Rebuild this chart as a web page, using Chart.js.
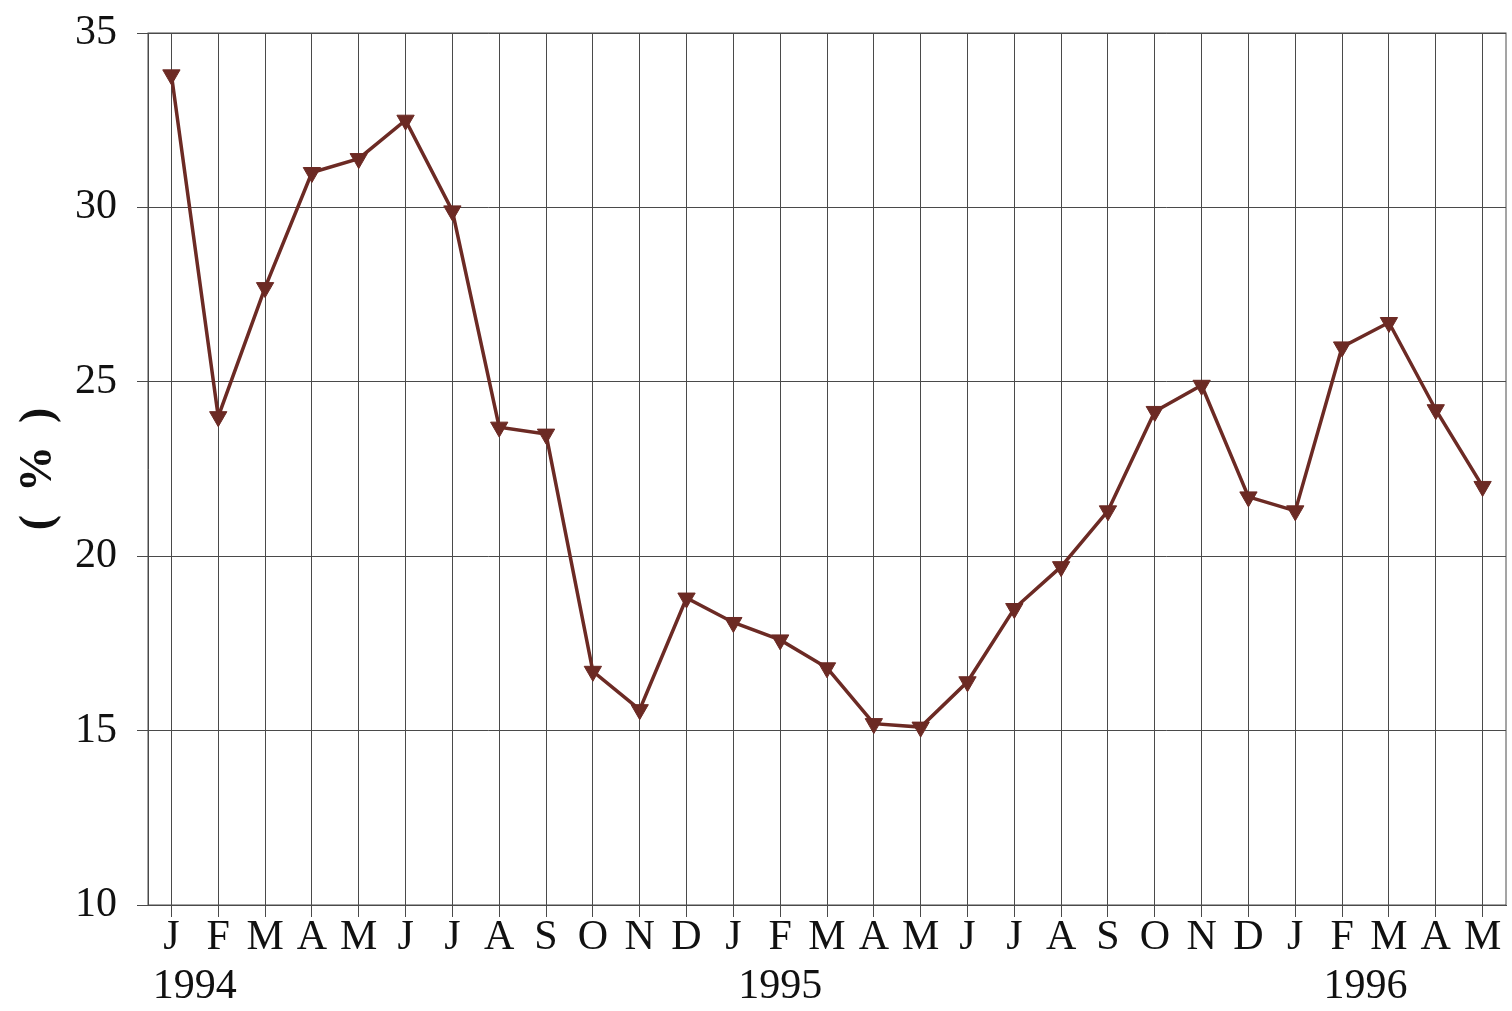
<!DOCTYPE html>
<html>
<head>
<meta charset="utf-8">
<script src="https://cdn.jsdelivr.net/npm/chart.js@4/dist/chart.umd.min.js"></script>
<style>
  html, body { margin: 0; padding: 0; background: #fff; }
  #wrap { width: 1512px; height: 1011px; }
</style>
</head>
<body>
<div id="wrap"><canvas id="rate-chart"></canvas></div>
<script>
const MONTHS = ['J', 'F', 'M', 'A', 'M', 'J', 'J', 'A', 'S', 'O', 'N', 'D',
                'J', 'F', 'M', 'A', 'M', 'J', 'J', 'A', 'S', 'O', 'N', 'D',
                'J', 'F', 'M', 'A', 'M'];
const RATES = [33.8, 24.0, 27.7, 31.0, 31.4, 32.5, 29.9, 23.7, 23.5, 16.7, 15.6, 18.8,
               18.1, 17.6, 16.8, 15.2, 15.1, 16.4, 18.5, 19.7, 21.3, 24.15, 24.9, 21.7,
               21.3, 26.0, 26.7, 24.2, 22.0];
const YEARS = ['1994', '1995', '1996'];
const YEAR_AT = [0.5, 13, 25.5];   // category index the year sits under
const Y_MIN = 10, Y_MAX = 35, Y_STEP = 5;

const LINE_COLOR = '#6c2a24';
const GRID_COLOR = '#4a4a4a';
const TEXT_COLOR = '#111';
const SERIF = '"Liberation Serif", "DejaVu Serif", serif';

const frame = {
    id: 'frame',
    afterDraw(chart) {
        const { ctx, chartArea: a } = chart;
        ctx.save();
        ctx.strokeStyle = GRID_COLOR;
        ctx.lineWidth = 1;
        ctx.strokeRect(a.left, a.top, a.right - a.left, a.bottom - a.top);
        ctx.restore();
    }
};

const yearLabels = {
    id: 'yearLabels',
    afterDraw(chart) {
        const { ctx } = chart;
        const x = chart.scales.x;
        ctx.save();
        ctx.fillStyle = TEXT_COLOR;
        ctx.font = '42px ' + SERIF;
        ctx.textAlign = 'center';
        ctx.textBaseline = 'middle';
        YEARS.forEach((y, i) => ctx.fillText(y, x.getPixelForValue(YEAR_AT[i]), x.bottom - 24));
        ctx.restore();
    }
};

const ctx = document.getElementById('rate-chart').getContext('2d');
new Chart(ctx, {
    type: 'line',
    data: {
        labels: MONTHS,
        datasets: [{
            data: RATES,
            borderColor: LINE_COLOR, backgroundColor: LINE_COLOR,
            borderWidth: 3.5, tension: 0,
            pointStyle: 'triangle', rotation: 180,
            pointRadius: 10, pointBackgroundColor: LINE_COLOR, pointBorderColor: LINE_COLOR,
            pointBorderWidth: 1
        }]
    },
    options: {
        responsive: true, maintainAspectRatio: false, animation: false,
        layout: { autoPadding: false, padding: { top: 33, right: 6, left: 0, bottom: 0 } },
        plugins: { legend: { display: false }, tooltip: { enabled: false } },
        scales: {
            x: {
                offset: true,
                afterFit: s => { s.height = 106; s.paddingLeft = 0; s.paddingRight = 0; },
                grid: { offset: false, color: GRID_COLOR, lineWidth: 1, tickLength: 12, tickColor: GRID_COLOR },
                border: { color: GRID_COLOR },
                ticks: { color: TEXT_COLOR, font: { family: SERIF, size: 42 }, padding: -4, maxRotation: 0, autoSkip: false }
            },
            y: {
                min: Y_MIN, max: Y_MAX,
                afterFit: s => { s.width = 148; s.paddingTop = 0; s.paddingBottom = 0; },
                grid: { color: GRID_COLOR, lineWidth: 1, tickLength: 11, tickColor: GRID_COLOR },
                border: { color: GRID_COLOR },
                ticks: { stepSize: Y_STEP, color: TEXT_COLOR, font: { family: SERIF, size: 42 }, padding: 20 },
                title: {
                    display: true, text: '(  %  )', color: TEXT_COLOR,
                    font: { family: SERIF, size: 46, weight: 'bold' }, padding: { top: 12, bottom: 0 }
                }
            }
        }
    },
    plugins: [frame, yearLabels]
});
</script>
</body>
</html>
